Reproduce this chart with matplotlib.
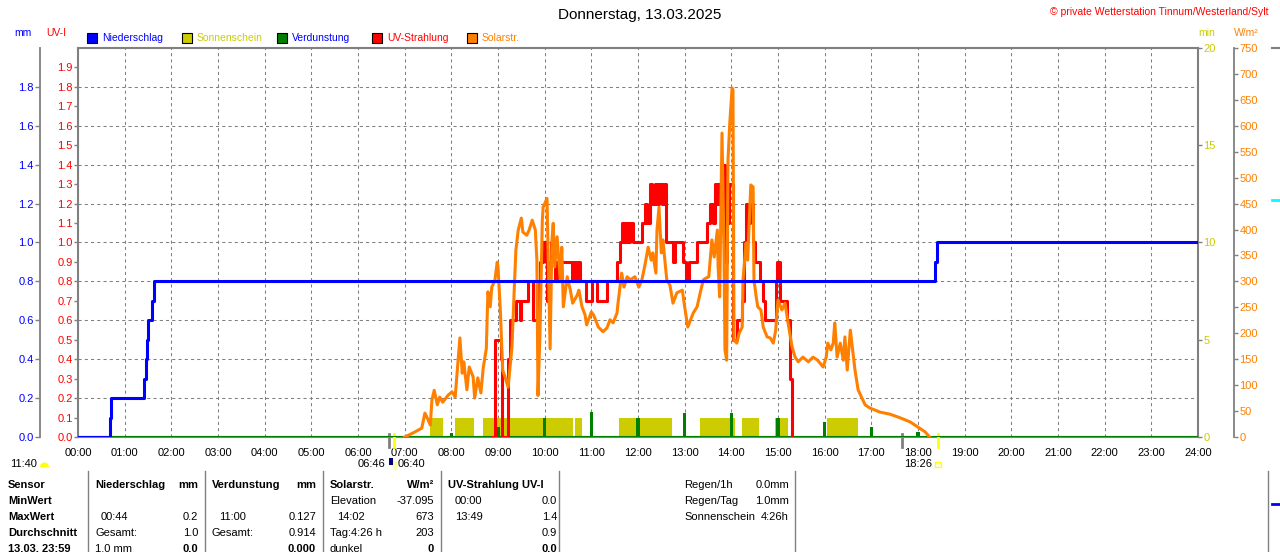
import matplotlib
matplotlib.use('Agg')
import matplotlib.pyplot as plt
import numpy as np
from matplotlib.lines import Line2D
from matplotlib.patches import Rectangle, Wedge
import matplotlib.transforms as mtransforms

plt.rcParams['font.family'] = ['Liberation Sans', 'DejaVu Sans']

# ---------------- data (time in minutes since midnight) ----------------
hour_labels = [f'{h:02d}:00' for h in range(25)]

# cumulative precipitation (mm), step series
pr_time = [0, 41, 42.5, 85, 87, 88.7, 90, 95, 97.3, 1102, 1104.4, 1440]
pr_mm = [0, 0.1, 0.2, 0.3, 0.4, 0.5, 0.6, 0.7, 0.8, 0.9, 1.0, 1.0]

# sunshine minutes (1 min per minute) intervals
sun_start = [453, 485, 521, 639, 696, 800, 854, 896, 963]
sun_end = [469, 509, 636, 648, 764, 845, 876, 913, 1003]
sun_level = [1, 1, 1, 1, 1, 1, 1, 1, 1]

# hourly evaporation (mm)
evap_hour = [8, 9, 10, 11, 12, 13, 14, 15, 16, 17, 18]
evap_mm = [0.02, 0.05, 0.10, 0.127, 0.10, 0.125, 0.125, 0.10, 0.077, 0.05, 0.025]

# UV index, step series
uv_time = [533.6, 536, 544, 545, 553, 555.4, 563, 568.3, 569.6, 578.6,
           585, 591.4, 594, 597.9, 601.7, 603, 606.9, 608.1, 610.7, 613.3,
           615.9, 635.1, 636.4, 639, 641.6, 645.4, 653.1, 660.9, 667.3, 680.1,
           693, 696.9, 699.4, 702, 704.6, 707.1, 709.7, 713.6, 725.1, 729,
           731.6, 735.4, 738, 741.8, 744.4, 747, 750.9, 753.4, 756, 765,
           767.6, 777.9, 781.7, 785.6, 795.8, 808.7, 812.6, 816.4, 819, 821.6,
           824.1, 826.7, 831.9, 834.4, 837, 842.1, 847.3, 853.7, 856.3, 858.9,
           861.4, 864, 867.8, 870.4, 876.9, 880.7, 883.3, 897.4, 898.7, 902.6,
           911.6, 915.4, 918]
uv_index = [0, 0.5, 0.4, 0, 0.4, 0.6, 0.7, 0.6, 0.7, 0.8,
            0.6, 0.8, 0.9, 1.0, 0.9, 0.7, 0.9, 1.0, 0.9, 0.8,
            0.9, 0.8, 0.9, 0.8, 0.9, 0.8, 0.7, 0.8, 0.7, 0.8,
            0.9, 1.0, 1.1, 1.0, 1.1, 1.0, 1.1, 1.0, 1.1, 1.2,
            1.1, 1.3, 1.2, 1.3, 1.2, 1.3, 1.2, 1.3, 1.0, 0.9,
            1.0, 0.9, 0.8, 0.9, 1.0, 1.1, 1.2, 1.1, 1.3, 1.2,
            1.3, 1.4, 0.9, 1.1, 1.3, 0.5, 0.6, 0.7, 1.0, 1.2,
            1.1, 1.2, 1.0, 0.9, 0.8, 0.7, 0.6, 0.8, 0.9, 0.7,
            0.6, 0.3, 0]

# solar radiation (W/m²)
sol_time = [420, 431, 442, 446, 449, 453, 455, 458, 462, 465,
            469, 476, 481, 485, 487, 491, 494, 496, 500, 503,
            508, 510, 514, 518, 521, 525, 527, 530, 532, 536,
            539, 540, 543, 546, 549, 553, 558, 561, 563, 566,
            570, 572, 577, 580, 584, 588, 590, 591.4, 594, 597,
            598, 603, 604.3, 607, 609.4, 611, 613, 616, 620, 622,
            624, 629, 633, 636, 642, 644, 648, 652, 654, 660,
            663, 669, 675, 680, 684, 688, 693, 694.3, 699, 702,
            706, 710, 716, 721, 725, 729, 733, 737, 739, 743,
            744.4, 747, 750, 752, 757, 761, 765, 770, 777, 780,
            784, 791, 796, 800, 804, 807, 811, 815, 818, 822,
            823, 825, 828, 830.6, 831.8, 834, 835.7, 838, 841, 842.1,
            843.4, 847, 850, 854, 855, 859, 861, 865, 868, 869.1,
            872, 874, 878, 881, 886, 890, 894, 897, 900, 905,
            909, 913, 918, 922, 926, 932, 939, 945, 951, 958,
            962, 964, 968, 971, 973, 976, 980, 984, 986, 989,
            993, 996, 999, 1003, 1012, 1018, 1031, 1044, 1057, 1070,
            1080, 1089, 1095]
sol_wm2 = [0, 8, 17, 46, 37, 23, 71, 90, 62, 77,
           67, 81, 87, 77, 116, 191, 123, 145, 91, 135,
           116, 75, 114, 85, 133, 171, 280, 251, 289, 302,
           337, 328, 245, 129, 116, 96, 174, 289, 360, 399,
           422, 395, 389, 399, 418, 399, 341, 80, 200, 418,
           443, 460, 366, 170, 380, 412, 328, 386, 303, 366,
           251, 309, 283, 258, 274, 283, 251, 235, 216, 241,
           235, 212, 203, 210, 226, 220, 239, 258, 316, 289,
           309, 303, 309, 289, 303, 332, 366, 341, 355, 316,
           399, 443, 355, 380, 303, 293, 258, 278, 283, 251,
           212, 239, 251, 278, 303, 306, 309, 380, 347, 399,
           328, 270, 586, 355, 168, 148, 534, 605, 673, 669,
           187, 181, 200, 212, 303, 374, 341, 486, 482, 303,
           270, 251, 245, 212, 193, 191, 181, 206, 264, 245,
           258, 220, 174, 154, 145, 154, 145, 154, 148, 135,
           154, 181, 168, 181, 220, 154, 181, 148, 193, 129,
           206, 168, 129, 91, 62, 56, 48, 44, 37, 29,
           19, 10, 0]

# sun markers (minutes)
sun_rise, sun_set = 406, 1106
gray_marks = [400, 1059]

mm_ticks = [0.0, 0.2, 0.4, 0.6, 0.8, 1.0, 1.2, 1.4, 1.6, 1.8]
uv_ticks = [i / 10 for i in range(20)]
min_ticks = [0, 5, 10, 15, 20]
wm2_ticks = list(range(0, 751, 50))

# ---------------- colours ----------------
BLUE, YEL, GREEN, RED, ORA, GRAY = '#0000FF', '#CCCC00', '#008000', '#FF0000', '#FF8000', '#808080'

W, H = 1280, 552
fig = plt.figure(figsize=(W / 100, H / 100), dpi=100)
fig.patch.set_facecolor('white')
L, R, TOP, BOT = 78, 1198, 48, 437
rect = [L / W, 1 - BOT / H, (R - L) / W, (BOT - TOP) / H]
PX = 72 / 100  # points per pixel


def layer(z, ylim):
    a = fig.add_axes(rect, zorder=z)
    a.patch.set_visible(False)
    a.set_xlim(0, 1440)
    a.set_ylim(*ylim)
    a.set_xticks([])
    a.set_yticks([])
    for s in a.spines.values():
        s.set_visible(False)
    return a


# base: grid + frame + hour labels
ax0 = fig.add_axes(rect, zorder=1)
ax0.set_xlim(0, 1440)
ax0.set_ylim(0, 2)
ax0.set_xticks(np.arange(25) * 60)
ax0.set_xticklabels(hour_labels, fontsize=8)
ax0.set_yticks(mm_ticks + [2.0])
ax0.set_yticklabels([])
ax0.tick_params(axis='both', length=0)
ax0.tick_params(axis='x', pad=8)
ax0.grid(True, color=GRAY, linestyle=(0, (3, 3)), linewidth=0.75)
for s in ax0.spines.values():
    s.set_color(GRAY)
    s.set_linewidth(1.5)

# sunshine
ax_sun = layer(2, (0, 20))
ax_sun.bar(sun_start, np.array(sun_level), width=np.array(sun_end) - np.array(sun_start),
           align='edge', color=YEL, linewidth=0)
ax_sun.yaxis.tick_right()
ax_sun.set_yticks(min_ticks)
ax_sun.set_yticklabels([str(v) for v in min_ticks])
ax_sun.tick_params(axis='y', direction='out', length=4 * PX, width=1, color=GRAY,
                   labelcolor=YEL, labelsize=8, pad=1)

# evaporation
ax_ev = layer(3, (0, 2))
ax_ev.axhline(0, color=GREEN, linewidth=1.5)
ax_ev.bar(np.array(evap_hour) * 60, evap_mm, width=4, color=GREEN, linewidth=0)

# UV
ax_uv = layer(4, (0, 2))
ax_uv.plot(uv_time, uv_index, drawstyle='steps-post', color=RED, linewidth=2.2)
ax_uv.set_yticks(uv_ticks)
ax_uv.set_yticklabels([f'{v:.1f}' for v in uv_ticks])
ax_uv.tick_params(axis='y', direction='out', length=4 * PX, width=1, color=GRAY,
                  labelcolor=RED, labelsize=8, pad=1)

# solar
ax_sol = layer(5, (0, 750))
ax_sol.plot(sol_time, sol_wm2, color=ORA, linewidth=2.2)
ax_sol.yaxis.tick_right()
ax_sol.spines['right'].set_visible(True)
ax_sol.spines['right'].set_position(('outward', 36 * PX))
ax_sol.spines['right'].set_color(GRAY)
ax_sol.spines['right'].set_linewidth(1.3)
ax_sol.set_yticks(wm2_ticks)
ax_sol.set_yticklabels([str(v) for v in wm2_ticks])
ax_sol.tick_params(axis='y', direction='out', length=4 * PX, width=1, color=GRAY,
                   labelcolor=ORA, labelsize=8, pad=1)

# precipitation
ax_pr = layer(6, (0, 2))
ax_pr.plot(pr_time, pr_mm, drawstyle='steps-post', color=BLUE, linewidth=2.2)
ax_pr.spines['left'].set_visible(True)
ax_pr.spines['left'].set_position(('outward', 38 * PX))
ax_pr.spines['left'].set_color(GRAY)
ax_pr.spines['left'].set_linewidth(1.3)
ax_pr.set_yticks(mm_ticks)
ax_pr.set_yticklabels([f'{v:.1f}' for v in mm_ticks])
ax_pr.tick_params(axis='y', direction='out', length=5 * PX, width=1, color=GRAY,
                  labelcolor=BLUE, labelsize=8, pad=1)

# sunrise / sunset markers below the baseline
trans = mtransforms.blended_transform_factory(ax0.transData, ax0.transAxes)
for t in gray_marks:
    ax0.plot([t, t], [0.008, -0.026], transform=trans, color=GRAY, lw=2, clip_on=False, zorder=10)
for t in (sun_rise, sun_set):
    ax0.plot([t, t], [0.008, -0.026], transform=trans, color='yellow', lw=2, clip_on=False, zorder=10)


def T(x, y, s, ha='left', va='center', **kw):
    fig.text(x / W, 1 - y / H, s, ha=ha, va=va, **kw)


# title and header texts
T(640, 15, 'Donnerstag, 13.03.2025', ha='center', fontsize=11)
T(1268, 12, '© private Wetterstation Tinnum/Westerland/Sylt', ha='right', fontsize=7.5, color=RED)
T(14, 33, 'mm', fontsize=7.5, color=BLUE)
T(46, 33, 'UV-I', fontsize=7.5, color=RED)
T(1198, 33, 'min', fontsize=7.5, color=YEL)
T(1234, 33, 'W/m²', fontsize=7.5, color=ORA)

# extra partial axis at the far right edge
fig.add_artist(Line2D([1272 / W, 1280 / W], [1 - 48 / H, 1 - 48 / H], transform=fig.transFigure,
                      color=GRAY, linewidth=1.5))
fig.add_artist(Line2D([1272 / W, 1280 / W], [1 - 200 / H, 1 - 200 / H], transform=fig.transFigure,
                      color='cyan', linewidth=2))

# legend
legend = [('Niederschlag', BLUE, BLUE, 87), ('Sonnenschein', YEL, YEL, 182),
          ('Verdunstung', GREEN, BLUE, 277), ('UV-Strahlung', RED, RED, 372),
          ('Solarstr.', ORA, ORA, 467)]
for name, fc, tc, x in legend:
    fig.add_artist(Rectangle((x / W, 1 - 42.5 / H), 10 / W, 10 / H, transform=fig.transFigure,
                             facecolor=fc, edgecolor='black', linewidth=0.8))
    T(x + 15, 38, name, fontsize=7.5, color=tc)

# marker labels
T(385, 464, '06:46', ha='right', fontsize=8)
T(398, 464, '06:40', fontsize=8)
fig.add_artist(Rectangle((389 / W, 1 - 465 / H), 4 / W, 7 / H, transform=fig.transFigure,
                         facecolor='#000080', edgecolor='none'))
fig.add_artist(Rectangle((393 / W, 1 - 470 / H), 4 / W, 9 / H, transform=fig.transFigure,
                         facecolor='#FFFFAA', edgecolor='none'))
T(918, 464, '18:26', ha='center', fontsize=8)
fig.add_artist(Rectangle((935 / W, 1 - 467 / H), 6 / W, 5 / H, transform=fig.transFigure,
                         facecolor='none', edgecolor='yellow', linewidth=1))
T(10, 464, '11:40', fontsize=8)
fig.add_artist(Wedge((44.5 / 100, (H - 467) / 100), 4.5 / 100, 0, 180,
                     transform=fig.dpi_scale_trans, facecolor='yellow', edgecolor='none'))

# table separators
for x in (88, 205, 323, 441, 559, 795, 1268):
    fig.add_artist(Line2D([x / W, x / W], [1 - 471 / H, 0], transform=fig.transFigure,
                          color=GRAY, linewidth=1))
fig.add_artist(Line2D([1272 / W, 1280 / W], [1 - 504 / H, 1 - 504 / H], transform=fig.transFigure,
                      color=BLUE, linewidth=2))

rows = [485, 501, 517, 533, 549]
FS = 8
bold = dict(fontsize=FS, fontweight='bold')
norm = dict(fontsize=FS)
for y, s in zip(rows, ['Sensor', 'MinWert', 'MaxWert', 'Durchschnitt', '13.03. 23:59']):
    T(8, y, s, **bold)

T(95, rows[0], 'Niederschlag', **bold); T(198, rows[0], 'mm', ha='right', **bold)
T(101, rows[2], '00:44', **norm); T(198, rows[2], '0.2', ha='right', **norm)
T(95, rows[3], 'Gesamt:', **norm); T(198, rows[3], '1.0', ha='right', **norm)
T(95, rows[4], '1.0 mm', **norm); T(198, rows[4], '0.0', ha='right', **bold)

T(212, rows[0], 'Verdunstung', **bold); T(316, rows[0], 'mm', ha='right', **bold)
T(219, rows[2], '11:00', **norm); T(316, rows[2], '0.127', ha='right', **norm)
T(212, rows[3], 'Gesamt:', **norm); T(316, rows[3], '0.914', ha='right', **norm)
T(316, rows[4], '0.000', ha='right', **bold)

T(330, rows[0], 'Solarstr.', **bold); T(434, rows[0], 'W/m²', ha='right', **bold)
T(330, rows[1], 'Elevation', **norm); T(434, rows[1], '-37.095', ha='right', **norm)
T(337, rows[2], '14:02', **norm); T(434, rows[2], '673', ha='right', **norm)
T(330, rows[3], 'Tag:4:26 h', **norm); T(434, rows[3], '203', ha='right', **norm)
T(330, rows[4], 'dunkel', **norm); T(434, rows[4], '0', ha='right', **bold)

T(448, rows[0], 'UV-Strahlung UV-I', **bold)
T(455, rows[1], '00:00', **norm); T(557, rows[1], '0.0', ha='right', **norm)
T(455, rows[2], '13:49', **norm); T(557, rows[2], '1.4', ha='right', **norm)
T(557, rows[3], '0.9', ha='right', **norm)
T(557, rows[4], '0.0', ha='right', **bold)

T(684, rows[0], 'Regen/1h', **norm); T(789, rows[0], '0.0mm', ha='right', **norm)
T(684, rows[1], 'Regen/Tag', **norm); T(789, rows[1], '1.0mm', ha='right', **norm)
T(684, rows[2], 'Sonnenschein', **norm); T(789, rows[2], '4:26h', ha='right', **norm)

fig.savefig('out.png', dpi=100, facecolor='white')
